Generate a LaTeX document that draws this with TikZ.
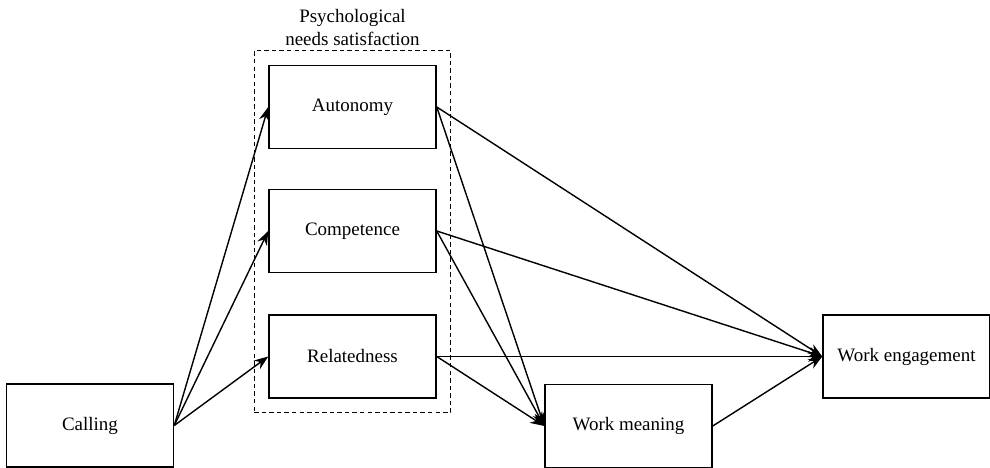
\documentclass[tikz,border=0pt]{standalone}
\usepackage{fontspec}
\setmainfont{Liberation Serif}
\usetikzlibrary{arrows.meta,fit}

\begin{document}
\begin{tikzpicture}[
    varbox/.style={draw, line width=0.85pt, minimum width=3.34cm, minimum height=1.66cm,
        font=\fontsize{10.8}{12}\selectfont},
    path/.style={-{Stealth[length=8pt,width=6pt]}, line width=0.8pt}
]
            \useasboundingbox (0,0) rectangle (19.8,9.36);

            % Predictor
            \node[varbox] (calling) at (1.8, 0.85) {Calling};

            % Needs boxes
            \node[varbox] (autonomy) at (7.05, 7.22) {Autonomy};
            \node[varbox] (competence) at (7.05, 4.74) {Competence};
            \node[varbox] (relatedness) at (7.05, 2.23) {Relatedness};

            % Dashed group and its label
            \node[draw, dash pattern=on 2.5pt off 1.8pt, line width=0.8pt, inner sep=0.28cm,
                fit=(autonomy)(relatedness)] (needs) {};
            \node[above, align=center, font=\fontsize{10.8}{13.5}\selectfont,
                inner sep=2pt] (needslabel) at (needs.north) {Psychological\\needs satisfaction};

            % Mediator and outcome
            \node[varbox] (meaning) at (12.57, 0.84) {Work meaning};
            \node[varbox] (engagement) at (18.13, 2.23) {Work engagement};

            % Paths from calling
            \draw[path] (calling.east) -- (autonomy.west);
            \draw[path] (calling.east) -- (competence.west);
            \draw[path] (calling.east) -- (relatedness.west);

            % Paths from needs
            \foreach \n in {autonomy, competence, relatedness} {
                \draw[path] (\n.east) -- (engagement.west);
                \draw[path] (\n.east) -- (meaning.west);
            }

            % Meaning to engagement
            \draw[path] (meaning.east) -- (engagement.west);
        \end{tikzpicture}
\end{document}
